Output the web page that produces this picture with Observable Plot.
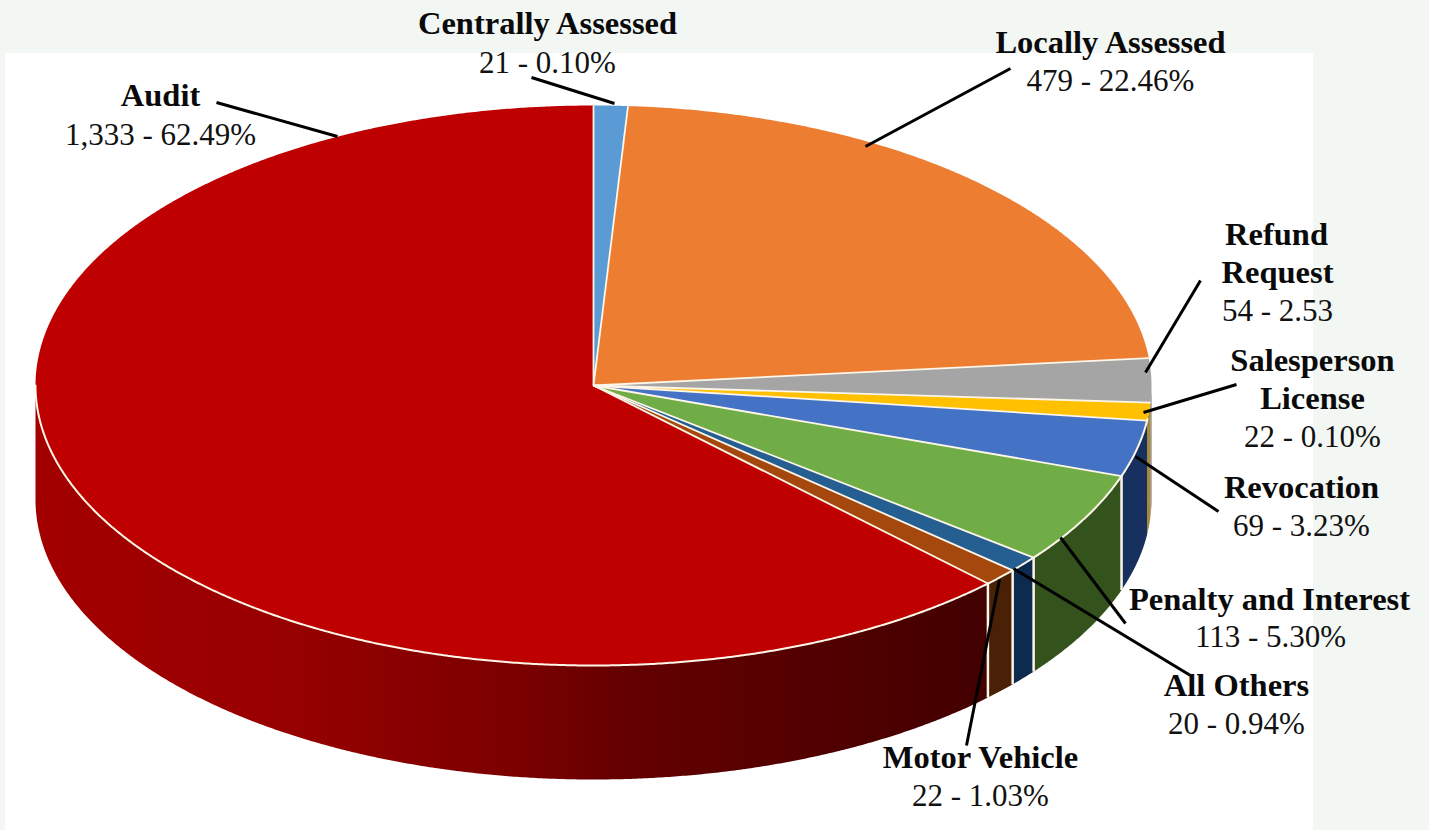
<!DOCTYPE html>
<html>
<head>
<meta charset="utf-8">
<script src="https://cdn.jsdelivr.net/npm/d3@7"></script>
<script src="https://cdn.jsdelivr.net/npm/@observablehq/plot@0.6"></script>
<style>
html,body{margin:0;padding:0;background:#f2f7f4;overflow:hidden}
svg{display:block;background:transparent}
</style>
</head>
<body>
<div id="chart"></div>
<script>
// Data, clockwise from 12 o'clock
const categories = ["Centrally Assessed","Locally Assessed","Refund Request","Salesperson License","Revocation","Penalty and Interest","All Others","Motor Vehicle","Audit"];
const counts = [21,479,54,22,69,113,20,22,1333];
const countLabels = ["21 - 0.10%","479 - 22.46%","54 - 2.53","22 - 0.10%","69 - 3.23%","113 - 5.30%","20 - 0.94%","22 - 1.03%","1,333 - 62.49%"];
const topColors = ["#5b9bd5","#ed7d31","#a5a5a5","#ffc000","#4472c4","#70ad47","#255e91","#a5480e","#bf0000"];
const wallColors = ["#37618a","#8a4a1c","#6a6a6a","#a8893a","#17305f","#34521c","#0c2b4e","#4a2006","url(#auditWall)"];

// Annotation layout
const titleLines = [
  ["Centrally Assessed",547,23],["Locally Assessed",1110,42],["Audit",160,95],
  ["Refund",1276,234],["Request",1277,272],["Salesperson",1312,360],["License",1312,398],
  ["Revocation",1301,487],["Penalty and Interest",1269,599],["All Others",1236,685],["Motor Vehicle",980,757]
];
const valuePositions = [[547,63],[1110,81],[1277,311],[1312,437],[1301,526],[1270,637],[1236,724],[980,796],[160,135]];
const leaders = [
  [531,77,614,103],[1010,68,865,146],[1200,280,1145,372],[1236,384,1143,412],[1218,511,1135,456],
  [1125,623,1060,537],[1190,675,1013,568],[966,745,999,579],[216,102,337,136]
];
const wallStops = [[0,"#a30000"],[0.25,"#980000"],[0.5,"#7c0000"],[0.62,"#640000"],[0.8,"#540000"],[1,"#420000"]];

// Pie geometry
const CX = 593, CY = 385, RX = 558, RY = 280, DEPTH = 114;
const total = d3.sum(counts);
const cumulative = d3.cumsum(counts);
const angleAt = i => i < 0 ? 0 : cumulative[i] / total * 2 * Math.PI;
const rim = (a, dy = 0) => ({x: CX + RX * Math.sin(a), y: CY - RY * Math.cos(a) + dy});
const arc = (a0, a1, dy = 0) => {
  const n = Math.max(2, Math.ceil((a1 - a0) / 0.005));
  return d3.range(n + 1).map(k => rim(a0 + (a1 - a0) * k / n, dy));
};
const FRONT0 = Math.PI / 2, FRONT1 = 3 * Math.PI / 2;

const wedges = categories.map((c, i) => [{x: CX, y: CY}, ...arc(angleAt(i - 1), angleAt(i)), {x: CX, y: CY}]);
const walls = categories.map((c, i) => {
  const a0 = Math.max(angleAt(i - 1), FRONT0), a1 = Math.min(angleAt(i), FRONT1);
  return a1 > a0 ? [...arc(a0, a1), ...arc(a0, a1, DEPTH).reverse()] : null;
});
const cream = "#fdf6e9";
const dividerIdx = [4, 5, 6, 7];

const titles = titleLines.map(([t, x, y]) => ({t, x, y}));
const values = countLabels.map((t, i) => ({t, x: valuePositions[i][0], y: valuePositions[i][1]}));
const links = leaders.map(([x1, y1, x2, y2]) => ({x1, y1, x2, y2}));
const radii = categories.map((c, i) => ({a: angleAt(i)}));

const defs = () => {
  const d = d3.create("svg:defs");
  const g = d.append("linearGradient").attr("id", "auditWall");
  wallStops.forEach(([o, c]) => g.append("stop").attr("offset", o).attr("stop-color", c));
  return d.node();
};

const plot = Plot.plot({
  width: 1429, height: 830,
  marginTop: 0, marginRight: 0, marginBottom: 0, marginLeft: 0,
  x: {domain: [0, 1429], range: [0, 1429], axis: null},
  y: {domain: [0, 830], range: [0, 830], axis: null},
  style: {background: "transparent"},
  marks: [
    defs,
    Plot.rect([{x1: 5, x2: 1313, y1: 53, y2: 830}], {x1: "x1", x2: "x2", y1: "y1", y2: "y2", fill: "white"}),
    ...walls.map((w, i) => w && Plot.line(w, {x: "x", y: "y", fill: wallColors[i], stroke: "none"})).filter(Boolean),
    Plot.link(dividerIdx.map(i => angleAt(i)), {
      x1: a => rim(a).x, y1: a => rim(a).y, x2: a => rim(a, DEPTH).x, y2: a => rim(a, DEPTH).y,
      stroke: cream, strokeWidth: 2.5
    }),
    ...wedges.map((w, i) => Plot.line(w, {x: "x", y: "y", fill: topColors[i], stroke: "none"})),
    Plot.line(arc(FRONT0 + 0.12, FRONT1), {x: "x", y: "y", stroke: cream, strokeWidth: 2}),
    Plot.link(radii, {
      x1: () => CX, y1: () => CY, x2: d => rim(d.a).x, y2: d => rim(d.a).y,
      stroke: cream, strokeWidth: 1.8
    }),
    Plot.link(links, {x1: "x1", y1: "y1", x2: "x2", y2: "y2", stroke: "black", strokeWidth: 3}),
    Plot.text(titles, {x: "x", y: "y", text: "t", fontFamily: "Liberation Serif", fontWeight: "bold", fontSize: 32.5, fill: "#0a0a0a", textAnchor: "middle", lineAnchor: "middle"}),
    Plot.text(values, {x: "x", y: "y", text: "t", fontFamily: "Liberation Serif", fontSize: 31, fill: "#111", textAnchor: "middle", lineAnchor: "middle"})
  ]
});
document.getElementById("chart").append(plot);
</script>
</body>
</html>
